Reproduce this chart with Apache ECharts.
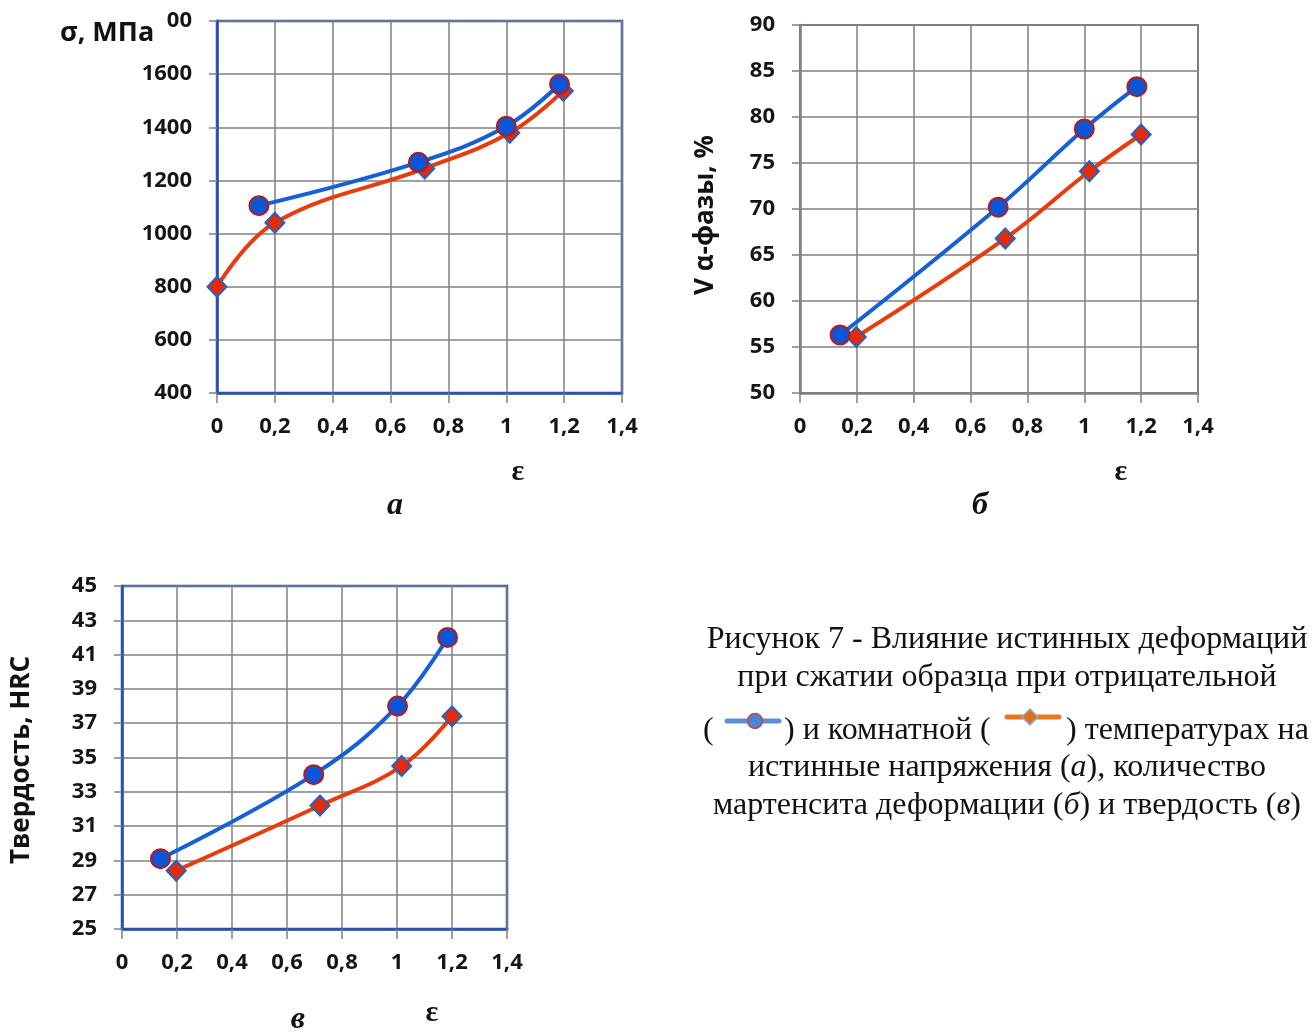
<!DOCTYPE html>
<html>
<head>
<meta charset="utf-8">
<script src="https://cdn.jsdelivr.net/npm/echarts@6/dist/echarts.min.js"></script>
<style>
  html, body { margin: 0; padding: 0; background: #fff; }
  #main { width: 1314px; height: 1034px; }
</style>
</head>
<body>
<div id="main"></div>
<script>
// а - истинные напряжения
const epsColdA = [0.145, 0.696, 1.0, 1.184];
const sigmaColdA = [1105, 1268, 1404, 1562];
const epsRoomA = [0, 0.2, 0.718, 1.012, 1.197];
const sigmaRoomA = [800, 1041, 1245, 1379, 1537];

// б - количество мартенсита
const epsColdB = [0.141, 0.697, 1.0, 1.185];
const vColdB = [56.3, 70.2, 78.7, 83.3];
const epsRoomB = [0.198, 0.722, 1.018, 1.2];
const vRoomB = [56.1, 66.8, 74.1, 78.1];

// в - твердость
const epsColdC = [0.14, 0.697, 1.002, 1.184];
const hrcColdC = [29.1, 34.0, 38.0, 42.0];
const epsRoomC = [0.197, 0.72, 1.017, 1.2];
const hrcRoomC = [28.4, 32.2, 34.5, 37.4];

const captionLines = [
  'Рисунок 7 - Влияние истинных деформаций',
  'при сжатии образца при отрицательной',
  'истинные напряжения ({i|а}), количество',
  'мартенсита деформации ({i|б}) и твердость ({i|в})'
];

const SANS = '"Open Sans", "DejaVu Sans", sans-serif';
const SERIF = '"Liberation Serif", "DejaVu Serif", serif';
const BLUE = '#1560d4';
const RED = '#e83c0c';
const GRAY = '#808080';
const FRAME = '#1f4db5';

function zip(xs, ys) {
  return xs.map((x, i) => [x, ys[i]]);
}

function commaFmt(v) {
  return String(v).replace('.', ',');
}

function makeX(gridIndex, lineColor) {
  return {
    gridIndex: gridIndex,
    type: 'value',
    min: 0, max: 1.4, interval: 0.2,
    axisLine: { show: true, lineStyle: { color: lineColor, width: 2.5 } },
    axisTick: { show: true, length: 10, lineStyle: { color: GRAY, width: 1.5 } },
    splitLine: { show: true, lineStyle: { color: GRAY, width: 1.5 } },
    axisLabel: { margin: 23, color: '#151515', fontFamily: SANS, fontWeight: 'bold', fontSize: 22, formatter: commaFmt }
  };
}

function makeY(gridIndex, min, max, interval, lineColor) {
  return {
    gridIndex: gridIndex,
    type: 'value',
    min: min, max: max, interval: interval,
    axisLine: { show: true, lineStyle: { color: lineColor, width: 2.5 } },
    axisTick: { show: true, length: 8, lineStyle: { color: GRAY, width: 1.5 } },
    splitLine: { show: true, lineStyle: { color: GRAY, width: 1.5 } },
    axisLabel: { margin: 25, color: '#151515', fontFamily: SANS, fontWeight: 'bold', fontSize: 22, formatter: v => String(v) }
  };
}

function coldSeries(idx, data) {
  return {
    type: 'line', xAxisIndex: idx, yAxisIndex: idx,
    data: data, smooth: 0.4,
    symbol: 'circle', symbolSize: 19,
    lineStyle: { color: BLUE, width: 4 },
    itemStyle: { color: '#0b55d6', borderColor: '#b81a1a', borderWidth: 2 },
    z: 4
  };
}

function roomSeries(idx, data) {
  return {
    type: 'line', xAxisIndex: idx, yAxisIndex: idx,
    data: data, smooth: 0.4,
    symbol: 'diamond', symbolSize: [19, 20],
    lineStyle: { color: RED, width: 4 },
    itemStyle: { color: '#e42a06', borderColor: '#2462c4', borderWidth: 2 },
    z: 3
  };
}

function txt(x, y, text, font, extra) {
  return Object.assign({
    type: 'text', x: x, y: y, z: 100,
    style: { text: text, font: font, fill: '#111', textAlign: 'center', textVerticalAlign: 'middle' }
  }, extra || {});
}

let chart = echarts.init(document.getElementById('main'), null, { renderer: 'canvas' });

let graphics = [
  // "1800" частично закрыто подписью оси
  { type: 'rect', z: 99, shape: { x: 55, y: 8, width: 112, height: 46 }, style: { fill: '#fff' } },
  txt(60, 33, 'σ, МПа', 'bold 27px ' + SANS, { style: { text: 'σ, МПа', font: 'bold 27px ' + SANS, fill: '#111', textAlign: 'left', textVerticalAlign: 'middle' } }),
  txt(706, 215, 'V α-фазы, %', 'bold 26px ' + SANS, { rotation: Math.PI / 2 }),
  txt(22, 760, 'Твердость, HRC', 'bold 26px ' + SANS, { rotation: Math.PI / 2 }),
  txt(518, 472, 'ε', 'bold 30px ' + SERIF),
  txt(1121, 472, 'ε', 'bold 30px ' + SERIF),
  txt(432, 1013, 'ε', 'bold 30px ' + SERIF),
  txt(395, 506, 'а', 'italic bold 32px ' + SERIF),
  txt(980, 506, 'б', 'italic bold 32px ' + SERIF),
  txt(298, 1020, 'в', 'italic bold 32px ' + SERIF)
];

// подпись к рисунку
const capFont = '32px ' + SERIF;
const capY = [640, 678, 768, 806];
captionLines.forEach((line, i) => {
  graphics.push({
    type: 'text', x: 1007, y: capY[i], z: 100,
    style: {
      text: line, font: capFont, fill: '#111', textAlign: 'center', textVerticalAlign: 'middle',
      rich: { i: { fontStyle: 'italic', fontSize: 32, fontFamily: SERIF } }
    }
  });
});
function capPiece(x, text) {
  return {
    type: 'text', x: x, y: 731, z: 100,
    style: { text: text, font: capFont, fill: '#111', textAlign: 'left', textVerticalAlign: 'middle' }
  };
}
graphics.push(capPiece(703, '('));
graphics.push(capPiece(784, ') и комнатной ('));
graphics.push(capPiece(1066, ') температурах на'));
// значки легенды в подписи
graphics.push({ type: 'line', z: 100, shape: { x1: 727, y1: 721, x2: 779, y2: 721 }, style: { stroke: '#5b8fd8', lineWidth: 5, lineCap: 'round' } });
graphics.push({ type: 'circle', z: 101, shape: { cx: 755, cy: 721, r: 7.5 }, style: { fill: '#4a84d6', stroke: '#c84848', lineWidth: 1.5 } });
graphics.push({ type: 'line', z: 100, shape: { x1: 1007, y1: 717, x2: 1059, y2: 717 }, style: { stroke: '#e8781e', lineWidth: 5, lineCap: 'round' } });
graphics.push({ type: 'polygon', z: 101, shape: { points: [[1030, 709], [1038, 717], [1030, 725], [1022, 717]] }, style: { fill: '#e07018', stroke: '#8aaad8', lineWidth: 1.5 } });

let option = {
  backgroundColor: '#fff',
  animation: false,
  grid: [
    { left: 217, top: 21, width: 405, height: 372, show: true, borderColor: FRAME, borderWidth: 2.5, outerBoundsMode: 'none' },
    { left: 800, top: 25, width: 398, height: 368, show: true, borderColor: GRAY, borderWidth: 2, outerBoundsMode: 'none' },
    { left: 122, top: 586, width: 385, height: 343, show: true, borderColor: FRAME, borderWidth: 2.5, outerBoundsMode: 'none' }
  ],
  xAxis: [makeX(0, FRAME), makeX(1, GRAY), makeX(2, FRAME)],
  yAxis: [
    makeY(0, 400, 1800, 200, FRAME),
    makeY(1, 50, 90, 5, GRAY),
    makeY(2, 25, 45, 2, FRAME)
  ],
  series: [
    roomSeries(0, zip(epsRoomA, sigmaRoomA)),
    coldSeries(0, zip(epsColdA, sigmaColdA)),
    roomSeries(1, zip(epsRoomB, vRoomB)),
    coldSeries(1, zip(epsColdB, vColdB)),
    roomSeries(2, zip(epsRoomC, hrcRoomC)),
    coldSeries(2, zip(epsColdC, hrcColdC))
  ],
  graphic: graphics
};

option && chart.setOption(option);
</script>
</body>
</html>
